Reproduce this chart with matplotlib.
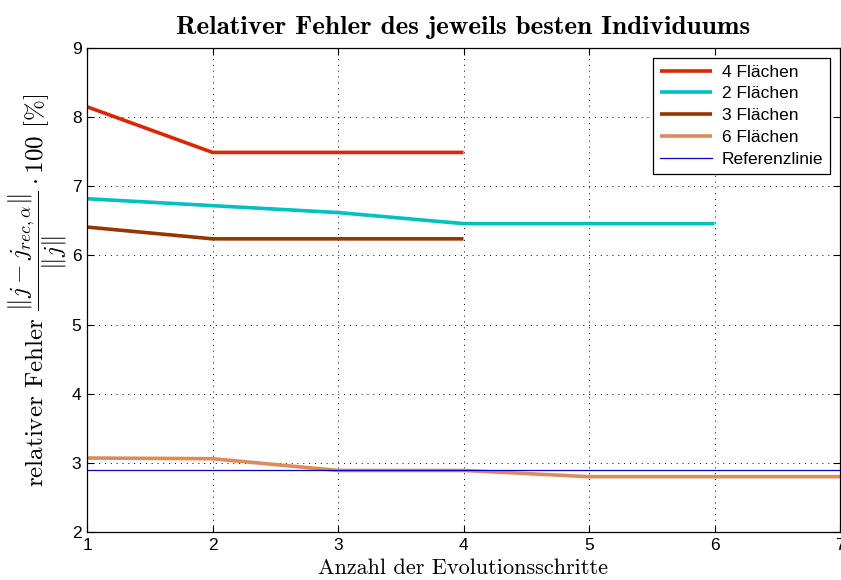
import matplotlib
matplotlib.use("Agg")
import matplotlib.pyplot as plt

# Best-individual relative error per evolution step
steps_4 = [1, 2, 3, 4]
err_4 = [8.15, 7.49, 7.49, 7.49]
steps_2 = [1, 2, 3, 4, 5, 6]
err_2 = [6.82, 6.72, 6.62, 6.46, 6.46, 6.46]
steps_3 = [1, 2, 3, 4]
err_3 = [6.41, 6.24, 6.24, 6.24]
steps_6 = [1, 2, 3, 4, 5, 6, 7]
err_6 = [3.07, 3.06, 2.89, 2.89, 2.80, 2.80, 2.80]
ref_x = [1, 7]
ref_y = [2.90, 2.90]

labels = ["4 Flächen", "2 Flächen", "3 Flächen", "6 Flächen", "Referenzlinie"]
xticks = [1, 2, 3, 4, 5, 6, 7]
yticks = [2, 3, 4, 5, 6, 7, 8, 9]

plt.rcParams["mathtext.fontset"] = "cm"
plt.rcParams["font.family"] = ["Liberation Sans", "DejaVu Sans"]

fig = plt.figure(figsize=(8.41, 5.80), dpi=100)
ax = fig.add_axes([87 / 841, 1 - 532 / 580, (840 - 87) / 841, (532 - 48) / 580])

ax.plot(steps_4, err_4, color="#d92800", lw=2.6, label=labels[0], solid_capstyle="butt")
ax.plot(steps_2, err_2, color="#00c0c0", lw=2.6, label=labels[1], solid_capstyle="butt")
ax.plot(steps_3, err_3, color="#993300", lw=2.6, label=labels[2], solid_capstyle="butt")
ax.plot(steps_6, err_6, color="#de8a5a", lw=2.6, label=labels[3], solid_capstyle="butt")
ax.plot(ref_x, ref_y, color="#0000c8", lw=0.9, label=labels[4])

ax.set_xlim(1, 7)
ax.set_ylim(2, 9)
ax.set_xticks(xticks)
ax.set_yticks(yticks)
ax.tick_params(direction="in", top=True, right=True, labelsize=12.5, length=5, width=0.8, pad=4)
ax.grid(True, linestyle=(0, (1, 5)), color="black", lw=0.7)
for s in ax.spines.values():
    s.set_linewidth(0.9)

ax.set_title("Relativer Fehler des jeweils besten Individuums", family="cmb10", fontsize=19.5, pad=10)
ax.set_xlabel("Anzahl der Evolutionsschritte", family="cmr10", fontsize=16, labelpad=4)
ax.set_ylabel(r"relativer Fehler $\dfrac{\Vert j - j_{rec,\alpha}\Vert}{\Vert j\Vert}\cdot 100$ [%]",
              family="cmr10", fontsize=18, labelpad=2)

leg = ax.legend(loc="upper right", fontsize=12.5, fancybox=False, edgecolor="black",
                framealpha=1, borderaxespad=0.55, handlelength=3.0, labelspacing=0.38,
                borderpad=0.4, handletextpad=0.6)
leg.get_frame().set_linewidth(0.9)

fig.savefig("out.png", dpi=100)
